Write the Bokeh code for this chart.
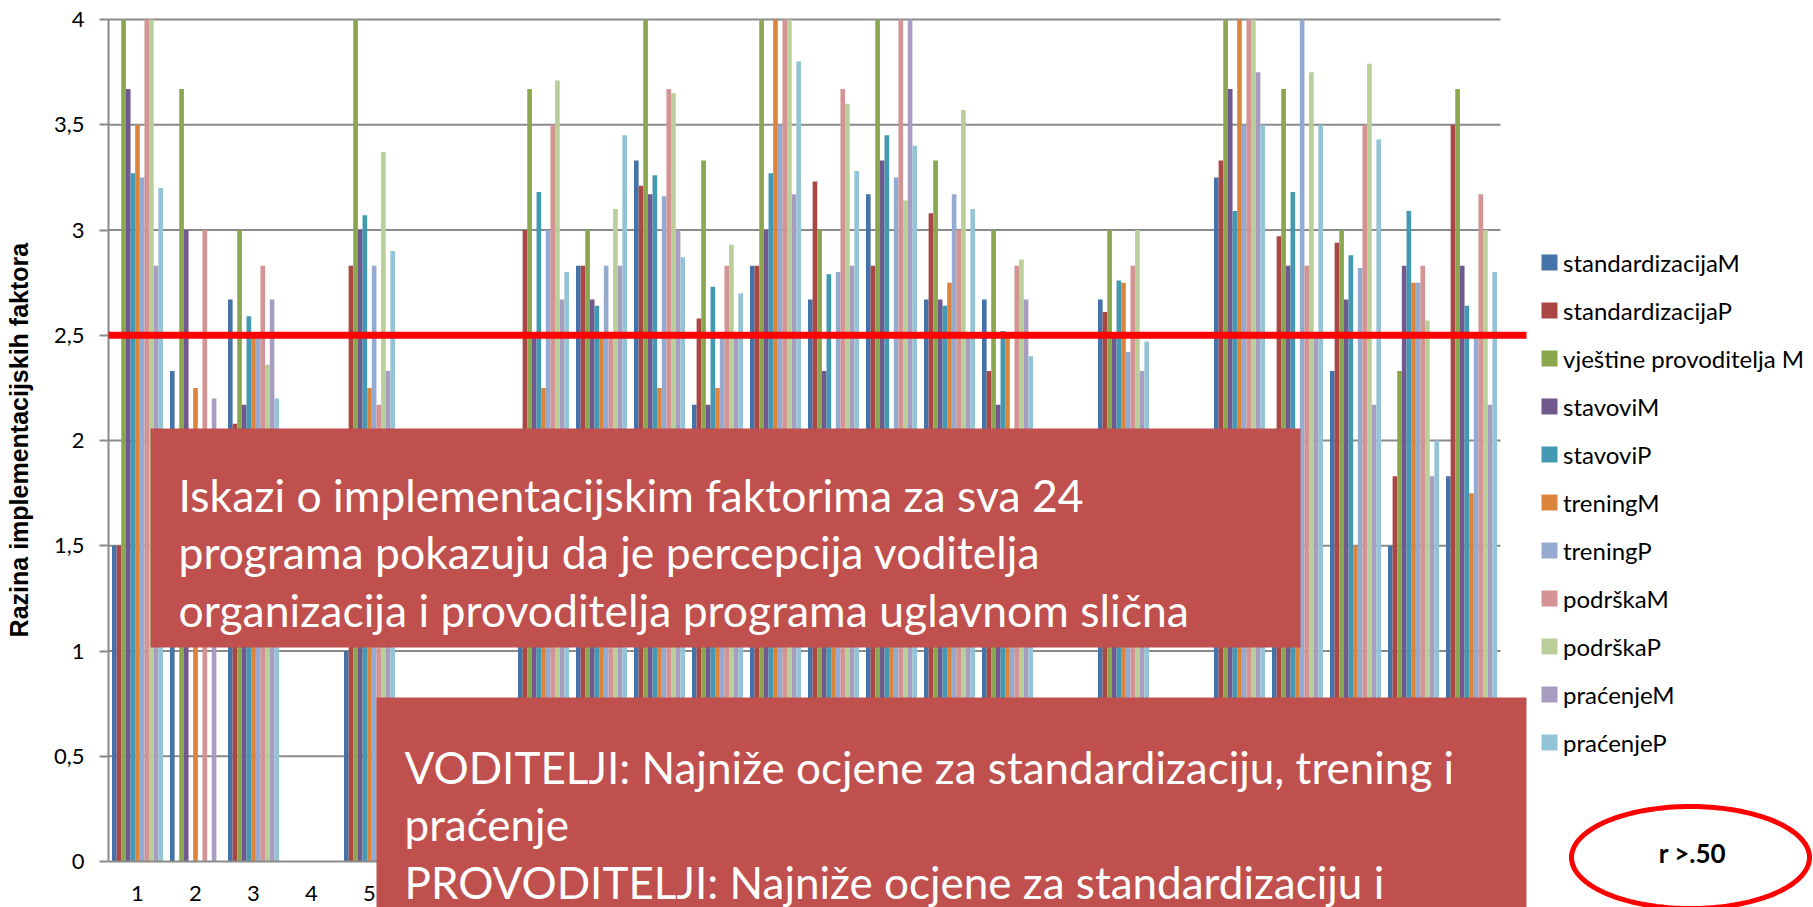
import numpy as np
from bokeh.plotting import figure
from bokeh.models import (BoxAnnotation, Label, Legend, LegendItem, FixedTicker,
                          PolyAnnotation, Range1d)
from bokeh.embed import file_html
from bokeh.resources import INLINE

# ---------------- data ----------------
programs = list(range(1, 25))
program_labels = [str(i) for i in programs]

series_names = ["standardizacijaM", "standardizacijaP", "vještine provoditelja M",
                "stavoviM", "stavoviP", "treningM", "treningP", "podrškaM",
                "podrškaP", "praćenjeM", "praćenjeP"]
series_colors = ["#4572A8", "#AA4643", "#8AA64E", "#70598F", "#4299B1", "#DC843C",
                 "#94AAD0", "#D39493", "#B9CE98", "#A89CC1", "#93C4D6"]

standardizacijaM = [1.5, 2.33, 2.67, 0, 1.0, 0, 0, 2.0, 2.83, 3.33, 2.17, 2.83,
                    2.67, 3.17, 2.67, 2.67, 0, 2.67, 0, 3.25, 1.83, 2.33, 1.5, 1.83]
standardizacijaP = [1.5, 0, 2.08, 0, 2.83, 0, 0, 3.0, 2.83, 3.21, 2.58, 2.83,
                    3.23, 2.83, 3.08, 2.33, 0, 2.61, 0, 3.33, 2.97, 2.94, 1.83, 3.5]
vjestineM = [4.0, 3.67, 3.0, 0, 4.0, 0, 0, 3.67, 3.0, 4.0, 3.33, 4.0,
             3.0, 4.0, 3.33, 3.0, 0, 3.0, 0, 4.0, 3.67, 3.0, 2.33, 3.67]
stavoviM = [3.67, 3.0, 2.17, 0, 3.0, 0, 0, 2.5, 2.67, 3.17, 2.17, 3.0,
            2.33, 3.33, 2.67, 2.17, 0, 2.5, 0, 3.67, 2.83, 2.67, 2.83, 2.83]
stavoviP = [3.27, 0, 2.59, 0, 3.07, 0, 0, 3.18, 2.64, 3.26, 2.73, 3.27,
            2.79, 3.45, 2.64, 2.52, 0, 2.76, 0, 3.09, 3.18, 2.88, 3.09, 2.64]
treningM = [3.5, 2.25, 2.5, 0, 2.25, 0, 0, 2.25, 2.5, 2.25, 2.25, 4.0,
            2.0, 1.83, 2.75, 2.5, 0, 2.75, 0, 4.0, 1.5, 1.5, 2.75, 1.75]
treningP = [3.25, 0, 2.5, 0, 2.83, 0, 0, 3.0, 2.83, 3.16, 2.5, 3.5,
            2.8, 3.25, 3.17, 2.0, 0, 2.42, 0, 3.5, 4.0, 2.82, 2.75, 2.5]
podrskaM = [4.0, 3.0, 2.83, 0, 2.17, 0, 0, 3.5, 2.5, 3.67, 2.83, 4.0,
            3.67, 4.0, 3.0, 2.83, 0, 2.83, 0, 4.0, 2.83, 3.5, 2.83, 3.17]
podrskaP = [4.0, 0, 2.36, 0, 3.37, 0, 0, 3.71, 3.1, 3.65, 2.93, 4.0,
            3.6, 3.14, 3.57, 2.86, 0, 3.0, 0, 4.0, 3.75, 3.79, 2.57, 3.0]
pracenjeM = [2.83, 2.2, 2.67, 0, 2.33, 0, 0, 2.67, 2.83, 3.0, 2.5, 3.17,
             2.83, 4.0, 2.5, 2.67, 0, 2.33, 0, 3.75, 2.5, 2.17, 1.83, 2.17]
pracenjeP = [3.2, 0, 2.2, 0, 2.9, 0, 0, 2.8, 3.45, 2.87, 2.7, 3.8,
             3.28, 3.4, 3.1, 2.4, 0, 2.47, 0, 3.5, 3.5, 3.43, 2.0, 2.8]

series_values = [standardizacijaM, standardizacijaP, vjestineM, stavoviM, stavoviP,
                 treningM, treningP, podrskaM, podrskaP, pracenjeM, pracenjeP]

y_ticks = [0, 0.5, 1, 1.5, 2, 2.5, 3, 3.5, 4]
y_tick_labels = ["0", "0,5", "1", "1,5", "2", "2,5", "3", "3,5", "4"]
y_title = "Razina implementacijskih faktora"
threshold = 2.5

top_lines = ["Iskazi o implementacijskim faktorima za sva 24",
             "programa pokazuju da je percepcija voditelja",
             "organizacija i  provoditelja programa uglavnom slična"]
bottom_lines = ["VODITELJI: Najniže ocjene za standardizaciju, trening i",
                "praćenje",
                "PROVODITELJI: Najniže ocjene za standardizaciju i"]
ellipse_text = "r >.50"

# ---------------- layout (page pixels) ----------------
W, H = 1813, 907
AX_L, AX_R, AX_T, AX_B = 108, 1500, 19, 861   # where x 0.5..24.5 and y 0..4 sit
XPX = (AX_R - AX_L) / 24.0
YPX = (AX_B - AX_T) / 4.0


def xd(px):
    return 0.5 + (px - AX_L) / XPX


def yd(py):
    return (AX_B - py) / YPX


# frame spans everything right of the y axis, so overlays are not clipped
p = figure(width=W, height=H,
           x_range=Range1d(xd(AX_L), xd(W)), y_range=Range1d(yd(H), yd(0)),
           output_backend="svg", toolbar_location=None, title=None,
           min_border_left=AX_L, min_border_right=0, min_border_top=0, min_border_bottom=0)
p.outline_line_color = None
p.background_fill_color = "white"
p.border_fill_color = "white"

grey = "#8A8A8A"
p.xgrid.visible = False
p.ygrid.visible = False
grid_vals = [t for t in y_ticks if t > 0]
p.segment(x0=[0.5] * len(grid_vals), x1=[len(programs) + 0.5] * len(grid_vals),
          y0=grid_vals, y1=grid_vals, line_color=grey, line_width=2)

n = len(series_names)
bw = 1.0 / (n + 1.5)
renderers = []
for i, (name, vals, col) in enumerate(zip(series_names, series_values, series_colors)):
    xs = [c + (i - (n - 1) / 2) * bw for c in programs]
    r = p.vbar(x=xs, top=vals, bottom=0, width=bw, fill_color=col, line_color=None)
    renderers.append(r)

# y axis
p.yaxis.bounds = (0, 4)
p.yaxis.ticker = FixedTicker(ticks=y_ticks)
p.yaxis.major_label_overrides = {t: l for t, l in zip(y_ticks, y_tick_labels)}
p.yaxis.axis_line_color = grey
p.yaxis.axis_line_width = 2
p.yaxis.major_tick_line_color = grey
p.yaxis.major_tick_line_width = 2
p.yaxis.major_tick_out = 9
p.yaxis.major_tick_in = 0
p.yaxis.minor_tick_line_color = None
p.yaxis.major_label_standoff = 15
p.yaxis.major_label_text_font = "Lato"
p.yaxis.major_label_text_font_size = "22px"
p.yaxis.major_label_text_color = "black"
# leading no-break spaces move the centred title up to the middle of the 0..4 axis
p.yaxis.axis_label = "\u00a0" * 4 + y_title
p.yaxis.axis_label_text_font = "Liberation Sans"
p.yaxis.axis_label_text_font_style = "bold"
p.yaxis.axis_label_text_font_size = "25px"
p.yaxis.axis_label_text_color = "black"
p.yaxis.axis_label_standoff = 18

# x axis pinned at y = 0 inside the frame
p.xaxis.fixed_location = 0
p.xaxis.bounds = (0.5, len(programs) + 0.5)
p.xaxis.ticker = FixedTicker(ticks=programs)
p.xaxis.major_label_overrides = {c: l for c, l in zip(programs, program_labels)}
p.xaxis.axis_line_color = grey
p.xaxis.axis_line_width = 2
p.xaxis.major_tick_out = 0
p.xaxis.major_tick_in = 0
p.xaxis.minor_tick_line_color = None
p.xaxis.major_label_standoff = 24
p.xaxis.major_label_text_font = "Lato"
p.xaxis.major_label_text_font_size = "22px"
p.xaxis.major_label_text_color = "black"

# legend
legend = Legend(items=[LegendItem(label=nm, renderers=[r]) for nm, r in zip(series_names, renderers)],
                location=(1539 - AX_L, H - 757), orientation="vertical",
                glyph_width=20, glyph_height=20, label_height=30, spacing=18,
                padding=0, margin=0, label_standoff=4,
                border_line_alpha=0, background_fill_alpha=0,
                label_text_font="Lato", label_text_font_size="24px",
                label_text_color="black")
p.add_layout(legend)

# red threshold line
p.add_layout(BoxAnnotation(left=xd(104), right=xd(1526), bottom=threshold - 3.5 / YPX,
                           top=threshold + 3.5 / YPX, fill_color="#FF0000", fill_alpha=1,
                           line_alpha=0))

# text boxes
box_red = "#C0504D"
p.add_layout(BoxAnnotation(left=xd(150), right=xd(1300), top=yd(428), bottom=yd(647),
                           fill_color=box_red, fill_alpha=1, line_alpha=0))
for k, t in enumerate(top_lines):
    p.add_layout(Label(x=xd(178), y=yd(494 + 57.3 * k), text=t, text_font="Lato",
                       text_font_size="44.5px", text_color="white",
                       text_baseline="alphabetic", text_align="left"))

p.add_layout(BoxAnnotation(left=xd(376), right=xd(1526), top=yd(697), bottom=yd(H + 20),
                           fill_color=box_red, fill_alpha=1, line_alpha=0))
for k, t in enumerate(bottom_lines):
    p.add_layout(Label(x=xd(404), y=yd(766 + 57.5 * k), text=t, text_font="Lato",
                       text_font_size="44px", text_color="white",
                       text_baseline="alphabetic", text_align="left"))

# ellipse with r > .50
tt = np.linspace(0, 2 * np.pi, 180)
ex = [xd(1690 + 119 * np.cos(a)) for a in tt]
ey = [yd(857 + 51 * np.sin(a)) for a in tt]
p.add_layout(PolyAnnotation(xs=ex, ys=ey, fill_alpha=0, line_color="#FF0000",
                            line_alpha=1, line_width=5))
p.add_layout(Label(x=xd(1692), y=yd(852), text=ellipse_text, text_font="Lato",
                   text_font_style="bold", text_font_size="26px", text_color="black",
                   text_align="center", text_baseline="middle"))

open("out.html", "w").write(file_html(p, INLINE, "chart"))
